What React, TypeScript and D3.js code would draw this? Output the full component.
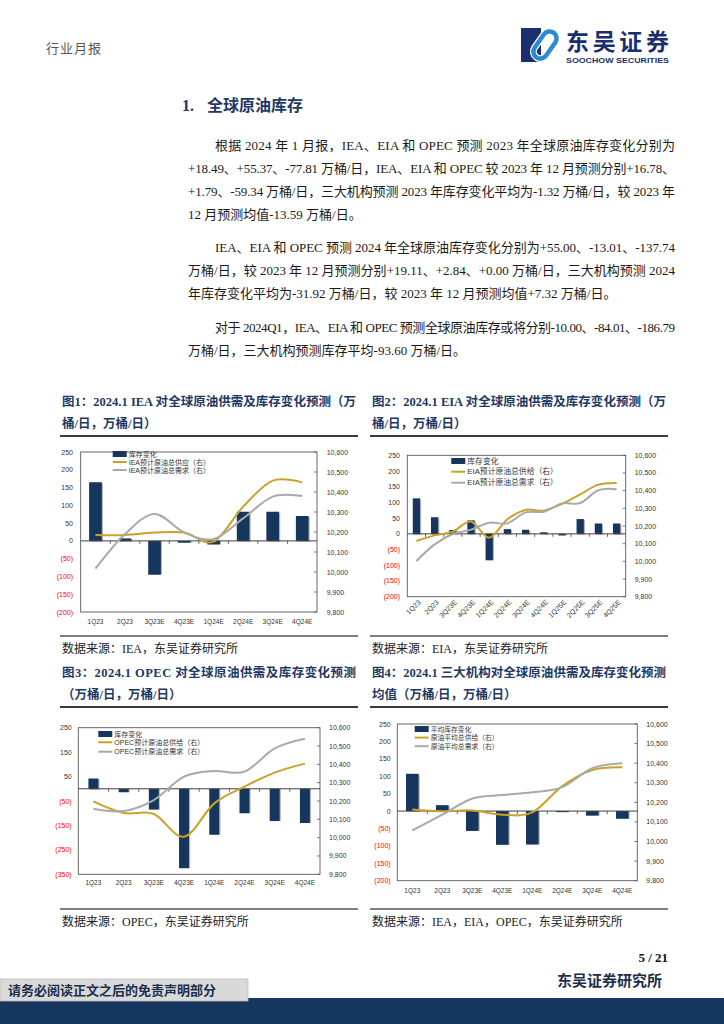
import * as d3 from 'd3';

// ---- data ----
const quarters8 = ['1Q23', '2Q23', '3Q23E', '4Q23E', '1Q24E', '2Q24E', '3Q24E', '4Q24E'];
const quarters12 = ['1Q23', '2Q23', '3Q23E', '4Q23E', '1Q24E', '2Q24E', '3Q24E', '4Q24E', '1Q25E', '2Q25E', '3Q25E', '4Q25E'];

const ieaStock = [165, 7, -95, -5, -10, 82, 82, 70];
const ieaSupply = [10185, 10185, 10197, 10197, 10152, 10327, 10457, 10448];
const ieaDemand = [10017, 10190, 10290, 10198, 10165, 10268, 10377, 10380];

const eiaStock = [113, 53, 12, 43, -84, 15, 13, 5, -5, 47, 33, 33];
const eiaSupply = [10115, 10147, 10168, 10225, 10134, 10238, 10291, 10287, 10325, 10379, 10434, 10443];
const eiaDemand = [10002, 10096, 10155, 10179, 10219, 10215, 10277, 10281, 10328, 10330, 10402, 10408];

const opecStock = [42, -14, -85, -325, -188, -100, -132, -140];
const opecSupply = [10198, 10135, 10129, 10005, 10187, 10278, 10355, 10404];
const opecDemand = [10158, 10145, 10205, 10333, 10364, 10360, 10487, 10540];

const avgStock = [107, 17, -57, -97, -96, -3, -13, -22];
const avgSupply = [10163, 10154, 10159, 10137, 10149, 10283, 10365, 10379];
const avgDemand = [10057, 10137, 10220, 10237, 10251, 10278, 10374, 10399];

const leftTicksA = [-200, -150, -100, -50, 0, 50, 100, 150, 200, 250];
const leftTicksOpec = [-350, -250, -150, -50, 50, 150, 250];
const rightTicks = [9800, 9900, 10000, 10100, 10200, 10300, 10400, 10500, 10600];

const ieaLegend = ['库存变化', 'IEA预计原油总供应（右）', 'IEA预计原油总需求（右）'];
const eiaLegend = ['库存变化', 'EIA预计原油总供给（右）', 'EIA预计原油总需求（右）'];
const opecLegend = ['库存变化', 'OPEC预计原油总供给（右）', 'OPEC预计原油总需求（右）'];
const avgLegend = ['平均库存变化', '原油平均总供给（右）', '原油平均总需求（右）'];

const paragraphs = [
  [
    '根据 2024 年 1 月报，IEA、EIA 和 OPEC 预测 2023 年全球原油库存变化分别为',
    '+18.49、+55.37、-77.81 万桶/日，IEA、EIA 和 OPEC 较 2023 年 12 月预测分别+16.78、',
    '+1.79、-59.34 万桶/日，三大机构预测 2023 年库存变化平均为-1.32 万桶/日，较 2023 年',
    '12 月预测均值-13.59 万桶/日。',
  ],
  [
    'IEA、EIA 和 OPEC 预测 2024 年全球原油库存变化分别为+55.00、-13.01、-137.74',
    '万桶/日，较 2023 年 12 月预测分别+19.11、+2.84、+0.00 万桶/日，三大机构预测 2024',
    '年库存变化平均为-31.92 万桶/日，较 2023 年 12 月预测均值+7.32 万桶/日。',
  ],
  [
    '对于 2024Q1，IEA、EIA 和 OPEC 预测全球原油库存或将分别-10.00、-84.01、-186.79',
    '万桶/日，三大机构预测库存平均-93.60 万桶/日。',
  ],
];

const SERIF = "'Liberation Serif','Times New Roman','Noto Sans CJK SC',serif";
const SANS = "'Liberation Sans',Arial,'Noto Sans CJK SC',sans-serif";
const NAVY = '#1f3864';
const BAR = '#17365d';
const GOLD = '#c9a227';
const GREY = '#a9a9a9';

type Cfg = {
  cats: string[];
  stock: number[];
  supply: number[];
  demand: number[];
  leftTicks: number[];
  legend: string[];
  title: [string, string];
  source: string;
  px: number; // panel left
  titleY: number;
  l: number; r: number; t: number; b: number;
  leftLabelX: number;
  rightLabelX: number;
  xLabelY: number;
  rotate: boolean;
  barRatio: number;
  legendX: number;
  legendY: number[];
  legendFont: number;
  sourceLineY: number;
};

const charts: Cfg[] = [
  {
    cats: quarters8, stock: ieaStock, supply: ieaSupply, demand: ieaDemand, leftTicks: leftTicksA, legend: ieaLegend,
    title: ['图1：2024.1 IEA 对全球原油供需及库存变化预测（万', '桶/日，万桶/日）'], source: '数据来源：IEA，东吴证券研究所',
    px: 60, titleY: 402, l: 80.7, r: 317, t: 452, b: 612, leftLabelX: 73, rightLabelX: 326.7, xLabelY: 621,
    rotate: false, barRatio: 0.43, legendX: 112.7, legendY: [454, 462, 470], legendFont: 7, sourceLineY: 636,
  },
  {
    cats: quarters12, stock: eiaStock, supply: eiaSupply, demand: eiaDemand, leftTicks: leftTicksA, legend: eiaLegend,
    title: ['图2：2024.1 EIA 对全球原油供需及库存变化预测（万', '桶/日，万桶/日）'], source: '数据来源：EIA，东吴证券研究所',
    px: 370, titleY: 402, l: 407.3, r: 625.7, t: 455.3, b: 596.7, leftLabelX: 400, rightLabelX: 634.7, xLabelY: 601,
    rotate: true, barRatio: 0.4, legendX: 451.3, legendY: [461, 471.7, 482.7], legendFont: 7.8, sourceLineY: 636,
  },
  {
    cats: quarters8, stock: opecStock, supply: opecSupply, demand: opecDemand, leftTicks: leftTicksOpec, legend: opecLegend,
    title: ['图3：2024.1 OPEC 对全球原油供需及库存变化预测', '（万桶/日，万桶/日）'], source: '数据来源：OPEC，东吴证券研究所',
    px: 60, titleY: 673, l: 78.3, r: 320, t: 727.7, b: 874.3, leftLabelX: 71.7, rightLabelX: 329, xLabelY: 882,
    rotate: false, barRatio: 0.33, legendX: 98.3, legendY: [734, 742.3, 751.7], legendFont: 7, sourceLineY: 909,
  },
  {
    cats: quarters8, stock: avgStock, supply: avgSupply, demand: avgDemand, leftTicks: leftTicksA, legend: avgLegend,
    title: ['图4：2024.1 三大机构对全球原油供需及库存变化预测', '均值（万桶/日，万桶/日）'], source: '数据来源：IEA，EIA，OPEC，东吴证券研究所',
    px: 370, titleY: 673, l: 397.3, r: 637.3, t: 724, b: 880.7, leftLabelX: 390.7, rightLabelX: 646.3, xLabelY: 890,
    rotate: false, barRatio: 0.42, legendX: 414.7, legendY: [729, 737.6, 746.2], legendFont: 6.8, sourceLineY: 909,
  },
];

const fmtLeft = (v: number) => (v < 0 ? `(${Math.abs(v)})` : `${v}`);
const fmtRight = d3.format(',');

function Chart({ c }: { c: Cfg }) {
  const x = d3.scaleBand<string>().domain(c.cats).range([c.l, c.r]);
  const yL = d3.scaleLinear().domain([d3.min(c.leftTicks)!, d3.max(c.leftTicks)!]).range([c.b, c.t]);
  const yR = d3.scaleLinear().domain([d3.min(rightTicks)!, d3.max(rightTicks)!]).range([c.b, c.t]);
  const cx = (i: number) => x(c.cats[i])! + x.bandwidth() / 2;
  const line = d3
    .line<number>()
    .x((_, i) => cx(i))
    .y((v) => yR(v))
    .curve(d3.curveCardinal.tension(0));
  const bw = x.bandwidth() * c.barRatio;
  const zero = yL(0);
  const panelW = 298;

  return (
    <g>
      {/* title */}
      <text x={c.px + 2} y={c.titleY} fontFamily={SERIF} fontWeight="bold" fontSize={12.5} fill={NAVY}
        dominantBaseline="central" textLength={panelW - 4} lengthAdjust="spacing">{c.title[0]}</text>
      <text x={c.px + 2} y={c.titleY + 22} fontFamily={SERIF} fontWeight="bold" fontSize={12.5} fill={NAVY}
        dominantBaseline="central">{c.title[1]}</text>
      <line x1={c.px} x2={c.px + panelW} y1={c.titleY + 34} y2={c.titleY + 34} stroke="#3a3a3a" strokeWidth={2} />

      {/* plot frame */}
      <rect x={c.l} y={c.t} width={c.r - c.l} height={c.b - c.t} fill="none" stroke="#595959" strokeWidth={0.9} />

      {/* left axis labels */}
      {c.leftTicks.map((v) => (
        <text key={'l' + v} x={c.leftLabelX} y={yL(v)} textAnchor="end" dominantBaseline="central"
          fontFamily={SANS} fontSize={7} fill={v < 0 ? '#ff0000' : '#333'}>{fmtLeft(v)}</text>
      ))}
      {/* right axis ticks + labels */}
      {rightTicks.map((v) => (
        <g key={'r' + v}>
          <line x1={c.r} x2={c.r - 3} y1={yR(v)} y2={yR(v)} stroke="#595959" strokeWidth={0.8} />
          <text x={c.rightLabelX} y={yR(v)} dominantBaseline="central" fontFamily={SANS} fontSize={7} fill="#333">
            {fmtRight(v)}
          </text>
        </g>
      ))}

      {/* bars */}
      {c.stock.map((v, i) => {
        const y0 = Math.min(yL(v), zero);
        const h = Math.abs(yL(v) - zero);
        return (
          <g key={'b' + i}>
            <rect x={cx(i) - bw / 2 + 1.2} y={y0 + (v < 0 ? 0 : 1)} width={bw} height={h} fill="#b8b8b8" />
            <rect x={cx(i) - bw / 2} y={y0} width={bw} height={h} fill={BAR} />
          </g>
        );
      })}

      {/* category axis at zero */}
      <line x1={c.l} x2={c.r} y1={zero} y2={zero} stroke="#404040" strokeWidth={1} />
      {c.cats.slice(1).map((k) => (
        <line key={'t' + k} x1={x(k)!} x2={x(k)!} y1={zero} y2={zero + 3} stroke="#404040" strokeWidth={0.8} />
      ))}

      {/* lines */}
      <path d={line(c.supply)!} fill="none" stroke={GOLD} strokeWidth={2} />
      <path d={line(c.demand)!} fill="none" stroke={GREY} strokeWidth={2} />

      {/* x labels */}
      {c.cats.map((k, i) =>
        c.rotate ? (
          <text key={'x' + k} transform={`translate(${cx(i) + 3},${c.xLabelY}) rotate(-45)`} textAnchor="end"
            dominantBaseline="central" fontFamily={SANS} fontSize={7} fill="#333">{k}</text>
        ) : (
          <text key={'x' + k} x={cx(i)} y={c.xLabelY} textAnchor="middle" dominantBaseline="central"
            fontFamily={SANS} fontSize={6.5} fill="#333">{k}</text>
        )
      )}

      {/* legend */}
      <rect x={c.legendX} y={c.legendY[0] - 3} width={14} height={6} fill={BAR} />
      <line x1={c.legendX} x2={c.legendX + 14} y1={c.legendY[1]} y2={c.legendY[1]} stroke={GOLD} strokeWidth={2} />
      <line x1={c.legendX} x2={c.legendX + 14} y1={c.legendY[2]} y2={c.legendY[2]} stroke={GREY} strokeWidth={2} />
      {c.legend.map((s, i) => (
        <text key={'g' + i} x={c.legendX + 16} y={c.legendY[i]} dominantBaseline="central" fontFamily={SANS}
          fontSize={c.legendFont} fill="#333">{s}</text>
      ))}

      {/* source */}
      <line x1={c.px} x2={c.px + panelW} y1={c.sourceLineY} y2={c.sourceLineY} stroke="#555" strokeWidth={1.3} />
      <text x={c.px + 2} y={c.sourceLineY + 13} dominantBaseline="central" fontFamily={SERIF} fontSize={12} fill="#222">
        {c.source}
      </text>
    </g>
  );
}

function Body() {
  const lineH = 23;
  const paraStarts = [145, 247, 327];
  const left = 188;
  const right = 675;
  const indent = 27;
  return (
    <g fontFamily={SERIF} fontSize={13} fill="#1a1a1a">
      {paragraphs.map((lines, p) =>
        lines.map((s, i) => {
          const x0 = i === 0 ? left + indent : left;
          const last = i === lines.length - 1;
          return (
            <text key={p + '-' + i} x={x0} y={paraStarts[p] + i * lineH} dominantBaseline="central"
              {...(last ? {} : { textLength: right - x0, lengthAdjust: 'spacing' })}>{s}</text>
          );
        })
      )}
    </g>
  );
}

export default function App() {
  return (
    <svg width={724} height={1024} viewBox="0 0 724 1024"
      style={{ position: 'absolute', left: 0, top: 0, background: '#fff' }}>
      <rect width={724} height={1024} fill="#fff" />
      {/* header */}
      <text x={46} y={48} fontFamily={SERIF} fontSize={13} fill="#555" dominantBaseline="central" letterSpacing={1}>行业月报</text>
      <rect x={521} y={28} width={20} height={34} fill="#1b2f6e" />
      <g transform="translate(545,45) rotate(35)">
        <rect x={-7} y={-15} width={14} height={30} rx={7} fill="none" stroke="#fff" strokeWidth={7} />
        <rect x={-7} y={-15} width={14} height={30} rx={7} fill="none" stroke="#2b8ad6" strokeWidth={4.5} />
      </g>
      <text x={566} y={40} fontFamily="'Noto Sans CJK SC',sans-serif" fontSize={23} fontWeight="bold" fill="#1b2f6e"
        dominantBaseline="central" textLength={103} lengthAdjust="spacing">东吴证券</text>
      <text x={566} y={60} fontFamily={SANS} fontSize={7.5} fontWeight="bold" fill="#1b2f6e"
        dominantBaseline="central" textLength={103} lengthAdjust="spacingAndGlyphs">SOOCHOW SECURITIES</text>

      {/* section title */}
      <text x={182} y={105} fontFamily={SERIF} fontSize={16} fontWeight="bold" fill={NAVY} dominantBaseline="central">1.</text>
      <text x={207} y={105} fontFamily={SERIF} fontSize={16} fontWeight="bold" fill={NAVY} dominantBaseline="central">全球原油库存</text>

      <Body />

      {charts.map((c, i) => (
        <Chart key={i} c={c} />
      ))}

      {/* footer */}
      <text x={668} y={957} textAnchor="end" fontFamily={SERIF} fontSize={13} fontWeight="bold" fill="#111" dominantBaseline="central">5 / 21</text>
      <text x={662} y={981} textAnchor="end" fontFamily={SERIF} fontSize={15} fontWeight="bold" fill="#1b2f4e" dominantBaseline="central">东吴证券研究所</text>
      <rect x={0} y={998} width={724} height={26} fill="#17375e" />
      <rect x={0} y={979} width={248} height={22} fill="#d9d9d9" stroke="#bfbfbf" strokeWidth={0.8} />
      <text x={8} y={990} fontFamily={SERIF} fontSize={13} fontWeight="bold" fill="#1b2f4e" dominantBaseline="central">请务必阅读正文之后的免责声明部分</text>
    </svg>
  );
}
